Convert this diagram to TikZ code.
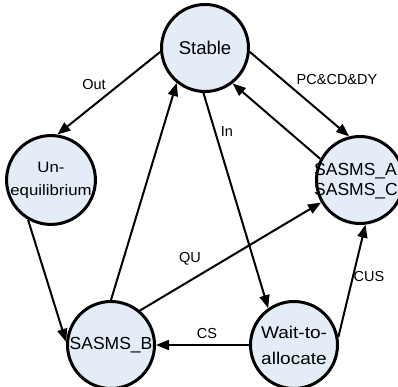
\documentclass[tikz,border=0pt]{standalone}
\usepackage{fontspec}
\setmainfont{Liberation Sans}
\newfontfamily\widefont[FakeStretch=1.12]{Liberation Sans}
\usetikzlibrary{arrows.meta}
\definecolor{statefill}{RGB}{228,236,247}
\begin{document}
\begin{tikzpicture}[x=1pt,y=-1pt,
  state/.style={circle,draw,line width=3pt,fill=statefill,minimum size=87pt,inner sep=0pt,align=center},
  edge/.style={line width=2pt,-{Triangle[length=13pt,width=10pt]}},
  lbl/.style={font=\fontsize{14.5}{16}\selectfont,inner sep=0pt}]
\useasboundingbox (0,0) rectangle (398,387);
\node[state,font=\fontsize{18.5}{22}\selectfont] (st) at (205,48) {Stable};
\node[state,font=\widefont\fontsize{15}{23}\selectfont] (un) at (51,180) {Un-\\equilibrium};
\node[state,font=\fontsize{17.5}{20}\selectfont] (sb) at (111,345) {SASMS\_B};
\node[state,font=\widefont\fontsize{17}{26}\selectfont] (wt) at (294,345) {Wait-to-\\allocate};
\node[state] (ac) at (360,180) {};
\node[font=\fontsize{17.5}{20}\selectfont,align=left,inner sep=0pt,anchor=west] (actext) at (314,181) {SASMS\_A\\SASMS\_C};
\draw[edge] (st.185) -- (un.82);
\draw[edge] (st.355) -- (ac.104);
\draw[edge] (ac.152) -- (st.308);
\draw[edge] (st.268) -- (wt.125);
\draw[edge] (un.240) -- (sb.176);
\draw[edge] (sb.90) -- (st.231);
\draw[edge] (sb.50) -- (ac.210);
\draw[edge] (wt.180) -- (sb.0);
\draw[edge] (wt.10) -- (ac.277);
\node[lbl] (lout) at (94,85) {Out};
\node[lbl] (lpc) at (337,80) {PC\&CD\&DY};
\node[lbl] (lin) at (227,132) {In};
\node[lbl] (lqu) at (190,259) {QU};
\node[lbl] (lcs) at (207,334) {CS};
\node[lbl] (lcus) at (369,277) {CUS};
\end{tikzpicture}
\end{document}
